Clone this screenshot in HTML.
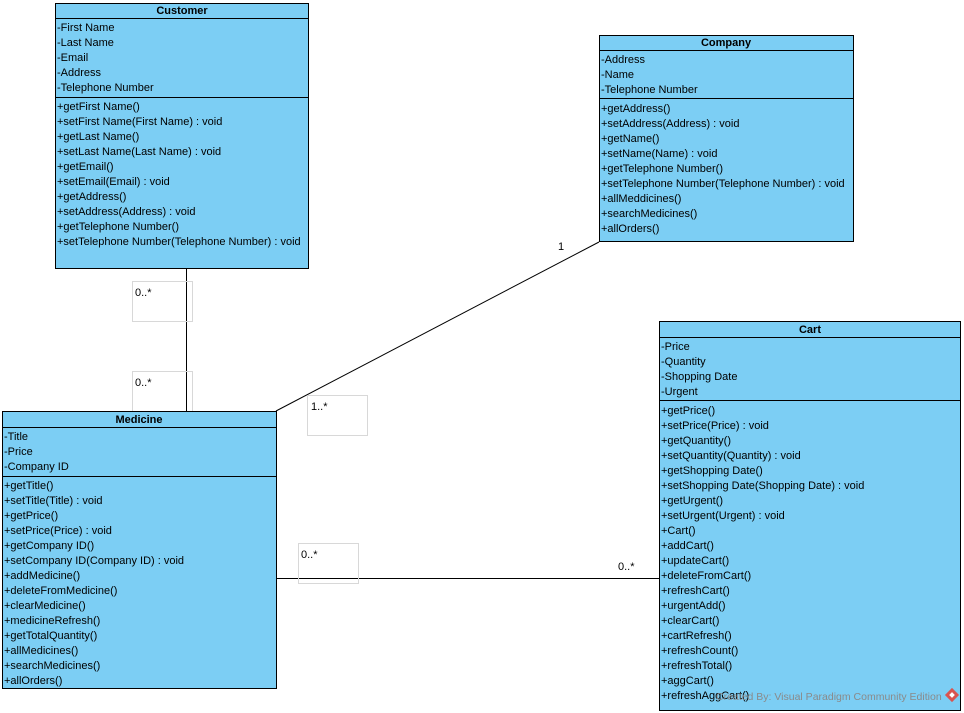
<!DOCTYPE html>
<html><head><meta charset="utf-8"><style>
html,body{margin:0;padding:0;background:#fff;}
svg{display:block;}
text{font-family:"Liberation Sans",Arial,sans-serif;font-size:11px;fill:#000;}
.h{font-weight:bold;text-anchor:middle;}
.lb{fill:none;stroke:#d8d8d8;stroke-width:1;}
.bx{fill:#7ccef4;stroke:#000;stroke-width:1;}
</style></head><body>
<svg width="964" height="713" xmlns="http://www.w3.org/2000/svg">
<!-- connectors -->
<line x1="186.5" y1="269" x2="186.5" y2="411" stroke="#000"/>
<line x1="276" y1="411" x2="599" y2="242" stroke="#000"/>
<line x1="276" y1="578.5" x2="659" y2="578.5" stroke="#000"/>
<rect class="lb" x="132.5" y="281.5" width="60" height="40"/>
<text x="135" y="296">0..*</text>
<rect class="lb" x="132.5" y="371.5" width="60" height="40"/>
<text x="135" y="386">0..*</text>
<rect class="lb" x="307.5" y="395.5" width="60" height="40"/>
<text x="311" y="410">1..*</text>
<rect class="lb" x="298.5" y="543.5" width="60" height="40"/>
<text x="301" y="558">0..*</text>
<text x="558" y="250">1</text>
<text x="618" y="570">0..*</text>

<!-- Customer -->
<rect class="bx" x="55.5" y="3.5" width="253" height="265"/>
<line x1="55" y1="18.5" x2="309" y2="18.5" stroke="#000"/>
<line x1="55" y1="97.5" x2="309" y2="97.5" stroke="#000"/>
<text class="h" x="182" y="14">Customer</text>
<text x="57" y="31">-First Name</text>
<text x="57" y="46">-Last Name</text>
<text x="57" y="61">-Email</text>
<text x="57" y="76">-Address</text>
<text x="57" y="91">-Telephone Number</text>
<text x="57" y="110">+getFirst Name()</text>
<text x="57" y="125">+setFirst Name(First Name) : void</text>
<text x="57" y="140">+getLast Name()</text>
<text x="57" y="155">+setLast Name(Last Name) : void</text>
<text x="57" y="170">+getEmail()</text>
<text x="57" y="185">+setEmail(Email) : void</text>
<text x="57" y="200">+getAddress()</text>
<text x="57" y="215">+setAddress(Address) : void</text>
<text x="57" y="230">+getTelephone Number()</text>
<text x="57" y="245">+setTelephone Number(Telephone Number) : void</text>

<!-- Company -->
<rect class="bx" x="599.5" y="35.5" width="254" height="206"/>
<line x1="599" y1="50.5" x2="854" y2="50.5" stroke="#000"/>
<line x1="599" y1="98.5" x2="854" y2="98.5" stroke="#000"/>
<text class="h" x="726" y="46">Company</text>
<text x="601" y="63">-Address</text>
<text x="601" y="78">-Name</text>
<text x="601" y="93">-Telephone Number</text>
<text x="601" y="112">+getAddress()</text>
<text x="601" y="127">+setAddress(Address) : void</text>
<text x="601" y="142">+getName()</text>
<text x="601" y="157">+setName(Name) : void</text>
<text x="601" y="172">+getTelephone Number()</text>
<text x="601" y="187">+setTelephone Number(Telephone Number) : void</text>
<text x="601" y="202">+allMeddicines()</text>
<text x="601" y="217">+searchMedicines()</text>
<text x="601" y="232">+allOrders()</text>

<!-- Medicine -->
<rect class="bx" x="2.5" y="411.5" width="274" height="277"/>
<line x1="2" y1="427.5" x2="277" y2="427.5" stroke="#000"/>
<line x1="2" y1="476.5" x2="277" y2="476.5" stroke="#000"/>
<text class="h" x="139" y="423">Medicine</text>
<text x="4" y="440">-Title</text>
<text x="4" y="455">-Price</text>
<text x="4" y="470">-Company ID</text>
<text x="4" y="489">+getTitle()</text>
<text x="4" y="504">+setTitle(Title) : void</text>
<text x="4" y="519">+getPrice()</text>
<text x="4" y="534">+setPrice(Price) : void</text>
<text x="4" y="549">+getCompany ID()</text>
<text x="4" y="564">+setCompany ID(Company ID) : void</text>
<text x="4" y="579">+addMedicine()</text>
<text x="4" y="594">+deleteFromMedicine()</text>
<text x="4" y="609">+clearMedicine()</text>
<text x="4" y="624">+medicineRefresh()</text>
<text x="4" y="639">+getTotalQuantity()</text>
<text x="4" y="654">+allMedicines()</text>
<text x="4" y="669">+searchMedicines()</text>
<text x="4" y="684">+allOrders()</text>

<!-- Cart -->
<rect class="bx" x="659.5" y="321.5" width="301" height="389"/>
<line x1="659" y1="337.5" x2="961" y2="337.5" stroke="#000"/>
<line x1="659" y1="400.5" x2="961" y2="400.5" stroke="#000"/>
<text class="h" x="810" y="333">Cart</text>
<text x="661" y="350">-Price</text>
<text x="661" y="365">-Quantity</text>
<text x="661" y="380">-Shopping Date</text>
<text x="661" y="395">-Urgent</text>
<text x="661" y="414">+getPrice()</text>
<text x="661" y="429">+setPrice(Price) : void</text>
<text x="661" y="444">+getQuantity()</text>
<text x="661" y="459">+setQuantity(Quantity) : void</text>
<text x="661" y="474">+getShopping Date()</text>
<text x="661" y="489">+setShopping Date(Shopping Date) : void</text>
<text x="661" y="504">+getUrgent()</text>
<text x="661" y="519">+setUrgent(Urgent) : void</text>
<text x="661" y="534">+Cart()</text>
<text x="661" y="549">+addCart()</text>
<text x="661" y="564">+updateCart()</text>
<text x="661" y="579">+deleteFromCart()</text>
<text x="661" y="594">+refreshCart()</text>
<text x="661" y="609">+urgentAdd()</text>
<text x="661" y="624">+clearCart()</text>
<text x="661" y="639">+cartRefresh()</text>
<text x="661" y="654">+refreshCount()</text>
<text x="661" y="669">+refreshTotal()</text>
<text x="661" y="684">+aggCart()</text>
<text x="661" y="699">+refreshAggCart()</text>
<text x="716" y="700" style="fill:#8a8a8a;font-size:10.5px">Created By: Visual Paradigm Community Edition</text>
<g transform="translate(952,695) rotate(45)">
<rect x="-5" y="-5" width="10" height="10" fill="#d9534f"/>
<rect x="-2" y="-2" width="4" height="4" fill="#fff"/>
</g>
</svg>
</body></html>
